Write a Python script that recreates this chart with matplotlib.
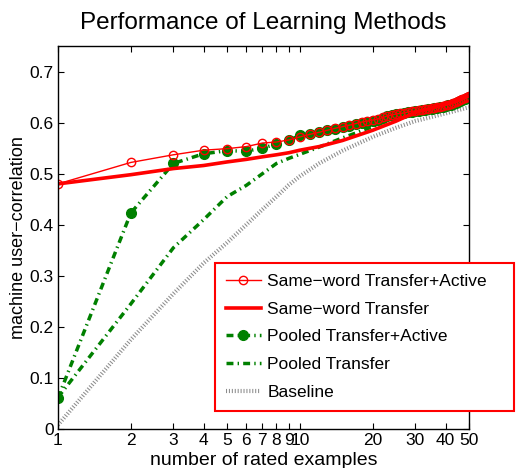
import matplotlib
matplotlib.use("Agg")
import matplotlib.pyplot as plt
from matplotlib.ticker import FixedLocator, FixedFormatter, NullLocator

plt.rcParams['font.family'] = ['Liberation Sans', 'DejaVu Sans']

title = "Performance of Learning Methods"
xlabel = "number of rated examples"
ylabel = "machine user\u2212correlation"

x_full = list(range(1, 51))

same_active = [0.480, 0.522, 0.537, 0.546, 0.549, 0.553, 0.560, 0.562, 0.566, 0.572,
               0.577, 0.581, 0.585, 0.589, 0.592, 0.595, 0.598, 0.601, 0.603, 0.605,
               0.607, 0.610, 0.613, 0.615, 0.617, 0.618, 0.619, 0.621, 0.622, 0.623,
               0.624, 0.625, 0.626, 0.627, 0.628, 0.629, 0.630, 0.631, 0.632, 0.634,
               0.635, 0.636, 0.638, 0.640, 0.642, 0.644, 0.646, 0.648, 0.650, 0.652]

pooled_active = [0.061, 0.423, 0.520, 0.539, 0.545, 0.544, 0.550, 0.558, 0.565, 0.575,
                 0.578, 0.582, 0.585, 0.588, 0.591, 0.594, 0.597, 0.600, 0.602, 0.604,
                 0.606, 0.609, 0.612, 0.614, 0.616, 0.617, 0.618, 0.620, 0.621, 0.622,
                 0.623, 0.624, 0.625, 0.626, 0.627, 0.628, 0.629, 0.630, 0.631, 0.633,
                 0.634, 0.635, 0.637, 0.638, 0.640, 0.642, 0.644, 0.646, 0.648, 0.650]

x_sparse = [1, 2, 3, 4, 5, 6, 7, 8, 9, 10, 12, 15, 20, 25, 30, 40, 50]
same_transfer = [0.480, 0.498, 0.510, 0.516, 0.523, 0.528, 0.533, 0.537, 0.541, 0.546,
                 0.553, 0.565, 0.585, 0.603, 0.620, 0.636, 0.652]
pooled_transfer = [0.062, 0.245, 0.355, 0.410, 0.455, 0.477, 0.500, 0.520, 0.530, 0.538,
                   0.552, 0.570, 0.592, 0.611, 0.622, 0.637, 0.650]
baseline = [0.008, 0.175, 0.265, 0.325, 0.365, 0.400, 0.430, 0.455, 0.478, 0.495,
            0.520, 0.545, 0.572, 0.590, 0.603, 0.618, 0.630]

xticks = [1, 2, 3, 4, 5, 6, 7, 8, 9, 10, 20, 30, 40, 50]
xticklabels = ["1", "2", "3", "4", "5", "6", "7", "8", "9", "10", "20", "30", "40", "50"]
yticks = [0, 0.1, 0.2, 0.3, 0.4, 0.5, 0.6, 0.7]
yticklabels = ["0", "0.1", "0.2", "0.3", "0.4", "0.5", "0.6", "0.7"]

labels = ["Same\u2212word Transfer+Active", "Same\u2212word Transfer",
          "Pooled Transfer+Active", "Pooled Transfer", "Baseline"]

green = (0.0, 0.5, 0.0)
red = (1.0, 0.0, 0.0)

fig = plt.figure(figsize=(5.16, 4.68), dpi=100)
ax = fig.add_axes([0.1124, 0.0833, 0.7965, 0.8184])

l5, = ax.plot(x_sparse, baseline, color=(0.55, 0.55, 0.55), lw=3.0,
              dashes=(0.25, 0.45), label=labels[4])
l4, = ax.plot(x_sparse, pooled_transfer, color=green, lw=2.5,
              dashes=(2.0, 1.2, 0.4, 1.2), label=labels[3])
l3, = ax.plot(x_full, pooled_active, color=green, lw=2.5,
              dashes=(2.0, 1.2, 0.4, 1.2), marker='o', markersize=7,
              markerfacecolor=green, markeredgecolor=green, label=labels[2])
l2, = ax.plot(x_sparse, same_transfer, color=red, lw=2.6, label=labels[1])
l1, = ax.plot(x_full, same_active, color=red, lw=1.0, marker='o', markersize=6,
              markerfacecolor='none', markeredgecolor=red, markeredgewidth=1.0,
              label=labels[0])

ax.set_xscale('log')
ax.set_xlim(1, 50)
ax.set_ylim(0, 0.75)
ax.xaxis.set_major_locator(FixedLocator(xticks))
ax.xaxis.set_major_formatter(FixedFormatter(xticklabels))
ax.xaxis.set_minor_locator(NullLocator())
ax.set_yticks(yticks)
ax.set_yticklabels(yticklabels)
ax.tick_params(direction='in', top=True, right=True, labelsize=12.5, length=4,
               width=0.8, pad=3)
for s in ax.spines.values():
    s.set_linewidth(1.0)

ax.set_title(title, fontsize=17.5, pad=12)
ax.set_xlabel(xlabel, fontsize=14, labelpad=2.5)
ax.set_ylabel(ylabel, fontsize=13, labelpad=2)

leg = fig.legend([l1, l2, l3, l4, l5], labels, loc='upper left',
                 bbox_to_anchor=(0.4167, 0.4275, 0.5793, 0.01),
                 bbox_transform=fig.transFigure, mode='expand',
                 fontsize=12.5, handlelength=2.0, labelspacing=0.72,
                 handletextpad=0.4, borderpad=0.62, borderaxespad=0.0,
                 fancybox=False, framealpha=1.0, edgecolor=red)
leg.get_frame().set_linewidth(1.5)

fig.savefig("out.png", dpi=100)
